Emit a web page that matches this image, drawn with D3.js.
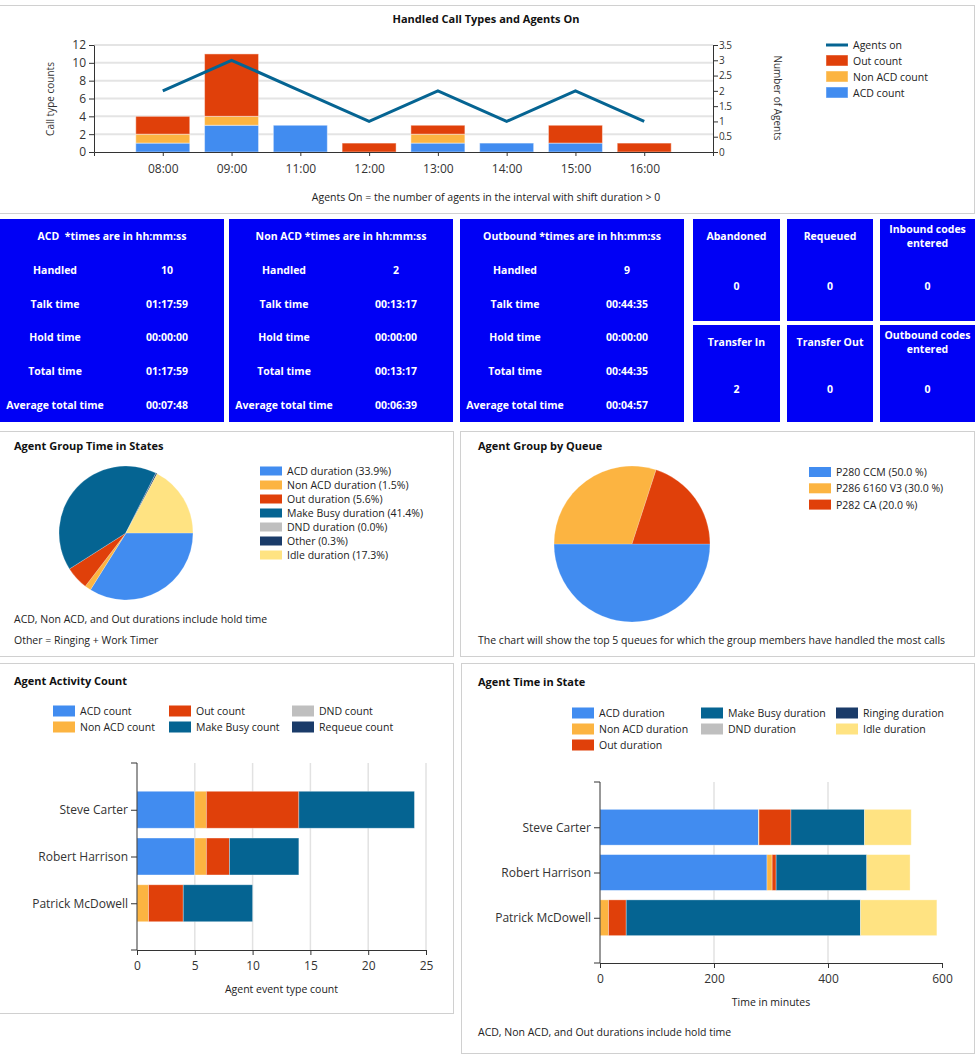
<!DOCTYPE html>
<html>
<head>
<meta charset="utf-8">
<script src="https://cdn.jsdelivr.net/npm/d3@7"></script>
<style>
  html, body { margin: 0; padding: 0; background: #fff; }
  svg { display: block; font-family: "Segoe UI", "Open Sans", sans-serif; }
  svg text { white-space: pre; }
  .axis path, .axis line { stroke: #333; }
  .axis text { fill: #333; }
</style>
</head>
<body>
<svg id="dash" width="975" height="1054"></svg>
<script>
/* Agent group dashboard — call type chart, stat tiles, two pies,
   two stacked horizontal bar charts. */

// --- handled call types per hour
var hours = ["08:00", "09:00", "11:00", "12:00", "13:00", "14:00", "15:00", "16:00"];
var acdCount = [1, 3, 3, 0, 1, 1, 1, 0];
var nonAcdCount = [1, 1, 0, 0, 1, 0, 0, 0];
var outCount = [2, 7, 0, 1, 1, 0, 2, 1];
var agentsOn = [2, 3, 2, 1, 2, 1, 2, 1];

// --- stat tiles
var statRows = ["Handled", "Talk time", "Hold time", "Total time", "Average total time"];
var acdStats = ["10", "01:17:59", "00:00:00", "01:17:59", "00:07:48"];
var nonAcdStats = ["2", "00:13:17", "00:00:00", "00:13:17", "00:06:39"];
var outboundStats = ["9", "00:44:35", "00:00:00", "00:44:35", "00:04:57"];
var tileNames = ["Abandoned", "Requeued", "Inbound codes|entered", "Transfer In", "Transfer Out", "Outbound codes|entered"];
var tileValues = ["0", "0", "0", "2", "0", "0"];

// --- group time in states (pie)
var stateNames = ["ACD duration", "Non ACD duration", "Out duration", "Make Busy duration", "DND duration", "Other", "Idle duration"];
var statePct = [33.9, 1.5, 5.6, 41.4, 0.0, 0.3, 17.3];

// --- group by queue (pie)
var queueNames = ["P280 CCM", "P286 6160 V3", "P282 CA"];
var queuePct = [50.0, 30.0, 20.0];

// --- per agent
var agents = ["Steve Carter", "Robert Harrison", "Patrick McDowell"];
var activityKeys = ["ACD count", "Non ACD count", "Out count", "Make Busy count", "DND count", "Requeue count"];
var actAcd = [5, 5, 0];
var actNonAcd = [1, 1, 1];
var actOut = [8, 2, 3];
var actMakeBusy = [10, 6, 6];
var actDnd = [0, 0, 0];
var actRequeue = [0, 0, 0];

var durationKeys = ["ACD duration", "Non ACD duration", "Out duration", "Make Busy duration", "DND duration", "Ringing duration", "Idle duration"];
var durAcd = [278, 293, 0];
var durNonAcd = [1, 9, 15];
var durOut = [56, 7, 31];
var durMakeBusy = [129, 159, 411];
var durDnd = [0, 0, 0];
var durRinging = [0, 0, 0];
var durIdle = [82, 76, 134];

var palette = ["#418cf0", "#fcb441", "#e0400a", "#056492", "#bfbfbf", "#1a3b69", "#ffe382"];
var TXT = "#222";

var svg = d3.select("#dash");

function panel(x, y, w, h) {
  svg.append("rect").attr("x", x + 0.5).attr("y", y + 0.5).attr("width", w).attr("height", h)
    .attr("fill", "#fff").attr("stroke", "#d0d0d0");
}
function title(x, y, t, anchor) {
  svg.append("text").attr("x", x).attr("y", y).attr("font-size", 11).attr("font-weight", "bold")
    .attr("fill", "#111").attr("text-anchor", anchor || "start").text(t);
}
function note(x, y, t) {
  svg.append("text").attr("x", x).attr("y", y).attr("font-size", 10.5).attr("fill", TXT).text(t);
}
function styleAxis(g, size) {
  g.attr("class", "axis").attr("font-size", size).attr("font-family", null);
}

/* ---------- top: handled call types ---------- */
panel(-1, 5, 975, 208);
title(486, 23, "Handled Call Types and Agents On", "middle");

var x = d3.scalePoint().domain(hours).range([94, 713]).padding(1);
var yL = d3.scaleLinear().domain([0, 12]).range([152, 45]);
var yR = d3.scaleLinear().domain([0, 3.5]).range([152, 45]);
var bw = x.step() * 0.785;

var topG = svg.append("g");
topG.selectAll("line.grid").data(yL.ticks(6).slice(1)).join("line")
  .attr("x1", 94).attr("x2", 713).attr("y1", yL).attr("y2", yL)
  .attr("stroke", "#e4e4e4").attr("stroke-width", 2);

var hourRows = hours.map(function (h, i) {
  return { hour: h, acd: acdCount[i], nonAcd: nonAcdCount[i], out: outCount[i] };
});
var callStack = d3.stack().keys(["acd", "nonAcd", "out"])(hourRows);
topG.selectAll("g.layer").data(callStack).join("g")
  .attr("fill", function (d, i) { return palette[i]; })
  .selectAll("rect").data(function (d) { return d.filter(function (p) { return p[1] > p[0]; }); }).join("rect")
  .attr("x", function (p) { return x(p.data.hour) - bw / 2; })
  .attr("y", function (p) { return yL(p[1]); })
  .attr("width", bw)
  .attr("height", function (p) { return yL(p[0]) - yL(p[1]); })
  .attr("stroke", "rgba(255,255,255,0.45)").attr("stroke-width", 1);

topG.append("path").datum(agentsOn)
  .attr("fill", "none").attr("stroke", "#056492").attr("stroke-width", 3)
  .attr("d", d3.line().x(function (d, i) { return x(hours[i]); }).y(function (d) { return yR(d); }));

var gl = topG.append("g").attr("transform", "translate(94,0)")
  .call(d3.axisLeft(yL).ticks(6).tickSize(5).tickSizeOuter(0));
styleAxis(gl, 12);
var gb = topG.append("g").attr("transform", "translate(0,152)")
  .call(d3.axisBottom(x).tickSize(4).tickSizeOuter(4).tickPadding(8));
styleAxis(gb, 12);
var gr = topG.append("g").attr("transform", "translate(713,0)")
  .call(d3.axisRight(yR).ticks(7).tickSize(5).tickSizeOuter(0).tickPadding(1).tickFormat(d3.format("~g")));
styleAxis(gr, 10);
gr.selectAll("text").attr("letter-spacing", -0.6);

topG.append("text").attr("transform", "translate(54,99) rotate(-90)").attr("text-anchor", "middle")
  .attr("font-size", 10).attr("fill", "#333").text("Call type counts");
topG.append("text").attr("transform", "translate(774,98) rotate(90)").attr("text-anchor", "middle")
  .attr("font-size", 10).attr("fill", "#333").text("Number of Agents");
topG.append("text").attr("x", 486).attr("y", 201).attr("text-anchor", "middle")
  .attr("font-size", 10.5).attr("fill", TXT)
  .text("Agents On = the number of agents in the interval with shift duration > 0");

// legend
var lg = topG.append("g").attr("font-size", 10.5).attr("fill", TXT);
lg.append("line").attr("x1", 826).attr("x2", 848).attr("y1", 45).attr("y2", 45)
  .attr("stroke", "#056492").attr("stroke-width", 3);
lg.append("text").attr("x", 853).attr("y", 49).text("Agents on");
["Out count", "Non ACD count", "ACD count"].forEach(function (name, i) {
  var yy = 61 + i * 16;
  lg.append("rect").attr("x", 826).attr("y", yy - 6).attr("width", 22).attr("height", 11)
    .attr("fill", palette[2 - i]).attr("stroke", "rgba(255,255,255,0.45)");
  lg.append("text").attr("x", 853).attr("y", yy + 4).text(name);
});

/* ---------- stat tiles ---------- */
var BLUE = "#0000f5";
function statBox(bx, header, values) {
  var w = 224;
  svg.append("rect").attr("x", bx).attr("y", 219).attr("width", w).attr("height", 203).attr("fill", BLUE);
  var g = svg.append("g").attr("fill", "#fff").attr("font-size", 10.5).attr("font-weight", "bold")
    .attr("text-anchor", "middle");
  g.append("text").attr("x", bx + w / 2).attr("y", 240).text(header);
  statRows.forEach(function (r, i) {
    var yy = 274 + i * 33.7;
    g.append("text").attr("x", bx + 55).attr("y", yy).text(r);
    g.append("text").attr("x", bx + 167).attr("y", yy).text(values[i]);
  });
}
statBox(0, "ACD  *times are in hh:mm:ss", acdStats);
statBox(229, "Non ACD *times are in hh:mm:ss", nonAcdStats);
statBox(460, "Outbound *times are in hh:mm:ss", outboundStats);

var tileX = [693, 787, 880];
var tileW = [87, 86, 95];
tileNames.forEach(function (name, i) {
  var c = i % 3, r = Math.floor(i / 3);
  var ty = r === 0 ? 219 : 325;
  var th = r === 0 ? 102 : 97;
  svg.append("rect").attr("x", tileX[c]).attr("y", ty).attr("width", tileW[c]).attr("height", th).attr("fill", BLUE);
  var g = svg.append("g").attr("fill", "#fff").attr("font-size", 10.5).attr("font-weight", "bold")
    .attr("text-anchor", "middle");
  var cx = tileX[c] + tileW[c] / 2;
  var parts = name.split("|");
  if (parts.length === 1) {
    g.append("text").attr("x", cx).attr("y", ty + 21).text(parts[0]);
  } else {
    g.append("text").attr("x", cx).attr("y", ty + 14).text(parts[0]);
    g.append("text").attr("x", cx).attr("y", ty + 28).text(parts[1]);
  }
  g.append("text").attr("x", cx).attr("y", ty + (r === 0 ? 71 : 68)).text(tileValues[i]);
});

/* ---------- pies ---------- */
function pieChart(cx, cy, r, values) {
  var pie = d3.pie().sort(null).startAngle(Math.PI / 2).endAngle(Math.PI * 2.5);
  var arc = d3.arc().innerRadius(0).outerRadius(r);
  svg.append("g").attr("transform", "translate(" + cx + "," + cy + ")")
    .selectAll("path").data(pie(values)).join("path")
    .attr("d", arc)
    .attr("fill", function (d, i) { return palette[i]; })
    .attr("stroke", "rgba(255,255,255,0.35)").attr("stroke-width", 0.6);
}

panel(-1, 431, 454, 225);
title(14, 450, "Agent Group Time in States");
pieChart(126, 533, 67, statePct);
var sl = svg.append("g").attr("font-size", 10.5).attr("fill", TXT);
stateNames.forEach(function (n, i) {
  var yy = 471 + i * 14;
  sl.append("rect").attr("x", 260).attr("y", yy - 4.5).attr("width", 22).attr("height", 9).attr("fill", palette[i]);
  sl.append("text").attr("x", 287).attr("y", yy + 4).text(n + " (" + statePct[i].toFixed(1) + "%)");
});
note(14, 623, "ACD, Non ACD, and Out durations include hold time");
note(14, 644, "Other = Ringing + Work Timer");

panel(460, 431, 514, 225);
title(478, 450, "Agent Group by Queue");
pieChart(632, 544, 78, queuePct);
var ql = svg.append("g").attr("font-size", 10.5).attr("fill", TXT);
queueNames.forEach(function (n, i) {
  var yy = 472 + i * 16.3;
  ql.append("rect").attr("x", 809).attr("y", yy - 5).attr("width", 22).attr("height", 10).attr("fill", palette[i]);
  ql.append("text").attr("x", 836).attr("y", yy + 4).text(n + " (" + queuePct[i].toFixed(1) + " %)");
});
note(478, 644, "The chart will show the top 5 queues for which the group members have handled the most calls");

/* ---------- horizontal stacked bars ---------- */
function hbar(o) {
  var xs = d3.scaleLinear().domain(o.domain).range([o.x0, o.x1]);
  var ys = d3.scalePoint().domain(agents).range([o.y0, o.y1]).padding(1);
  var bh = ys.step() * 0.79;
  var g = svg.append("g");

  g.selectAll("line.grid").data(o.grid).join("line")
    .attr("x1", xs).attr("x2", xs).attr("y1", o.y0).attr("y2", o.y1)
    .attr("stroke", "#e2e2e2").attr("stroke-width", 1.5);

  var rows = agents.map(function (a, i) {
    var row = { agent: a };
    o.keys.forEach(function (k, j) { row[k] = o.series[j][i]; });
    return row;
  });
  g.selectAll("g.layer").data(d3.stack().keys(o.keys)(rows)).join("g")
    .attr("fill", function (d, i) { return palette[i]; })
    .selectAll("rect").data(function (d) { return d.filter(function (p) { return p[1] > p[0]; }); }).join("rect")
    .attr("x", function (p) { return xs(p[0]); })
    .attr("y", function (p) { return ys(p.data.agent) - bh / 2; })
    .attr("width", function (p) { return xs(p[1]) - xs(p[0]); })
    .attr("height", bh)
    .attr("stroke", "rgba(255,255,255,0.4)").attr("stroke-width", 0.8);

  var ax = g.append("g").attr("transform", "translate(0," + o.y1 + ")")
    .call(d3.axisBottom(xs).tickValues(o.ticks).tickSize(5).tickSizeOuter(0).tickPadding(6));
  styleAxis(ax, 12);
  var ay = g.append("g").attr("transform", "translate(" + o.x0 + ",0)")
    .call(d3.axisLeft(ys).tickSize(6).tickSizeOuter(6).tickPadding(3));
  styleAxis(ay, 12);
  ay.select(".domain").attr("d", "M-6," + o.y0 + "H0V" + o.y1 + "H-6");
  g.append("text").attr("x", (o.x0 + o.x1) / 2).attr("y", o.y1 + 43).attr("text-anchor", "middle")
    .attr("font-size", 10.5).attr("fill", TXT).text(o.label);
}

function legendCols(x0s, y0, cols) {
  var g = svg.append("g").attr("font-size", 10.5).attr("fill", TXT);
  cols.forEach(function (col, c) {
    col.forEach(function (it, r) {
      var yy = y0 + r * 16;
      g.append("rect").attr("x", x0s[c]).attr("y", yy - 5.5).attr("width", 22).attr("height", 11).attr("fill", palette[it[1]]);
      g.append("text").attr("x", x0s[c] + 27).attr("y", yy + 4).text(it[0]);
    });
  });
}

panel(-1, 663, 454, 350);
title(14, 685, "Agent Activity Count");
legendCols([53, 169, 292], 711, [
  [[activityKeys[0], 0], [activityKeys[1], 1]],
  [[activityKeys[2], 2], [activityKeys[3], 3]],
  [[activityKeys[4], 4], [activityKeys[5], 5]]
]);
hbar({
  keys: activityKeys,
  series: [actAcd, actNonAcd, actOut, actMakeBusy, actDnd, actRequeue],
  domain: [0, 25], ticks: [0, 5, 10, 15, 20, 25], grid: [5, 10, 15, 20, 25],
  x0: 137, x1: 426, y0: 763, y1: 950, label: "Agent event type count"
});

panel(461, 663, 513, 390);
title(478, 686, "Agent Time in State");
legendCols([572, 701, 836], 713, [
  [[durationKeys[0], 0], [durationKeys[1], 1], [durationKeys[2], 2]],
  [[durationKeys[3], 3], [durationKeys[4], 4]],
  [[durationKeys[5], 5], [durationKeys[6], 6]]
]);
hbar({
  keys: durationKeys,
  series: [durAcd, durNonAcd, durOut, durMakeBusy, durDnd, durRinging, durIdle],
  domain: [0, 600], ticks: [0, 200, 400, 600], grid: [200, 400],
  x0: 600, x1: 942, y0: 782, y1: 963, label: "Time in minutes"
});
note(478, 1036, "ACD, Non ACD, and Out durations include hold time");
</script>
</body>
</html>
